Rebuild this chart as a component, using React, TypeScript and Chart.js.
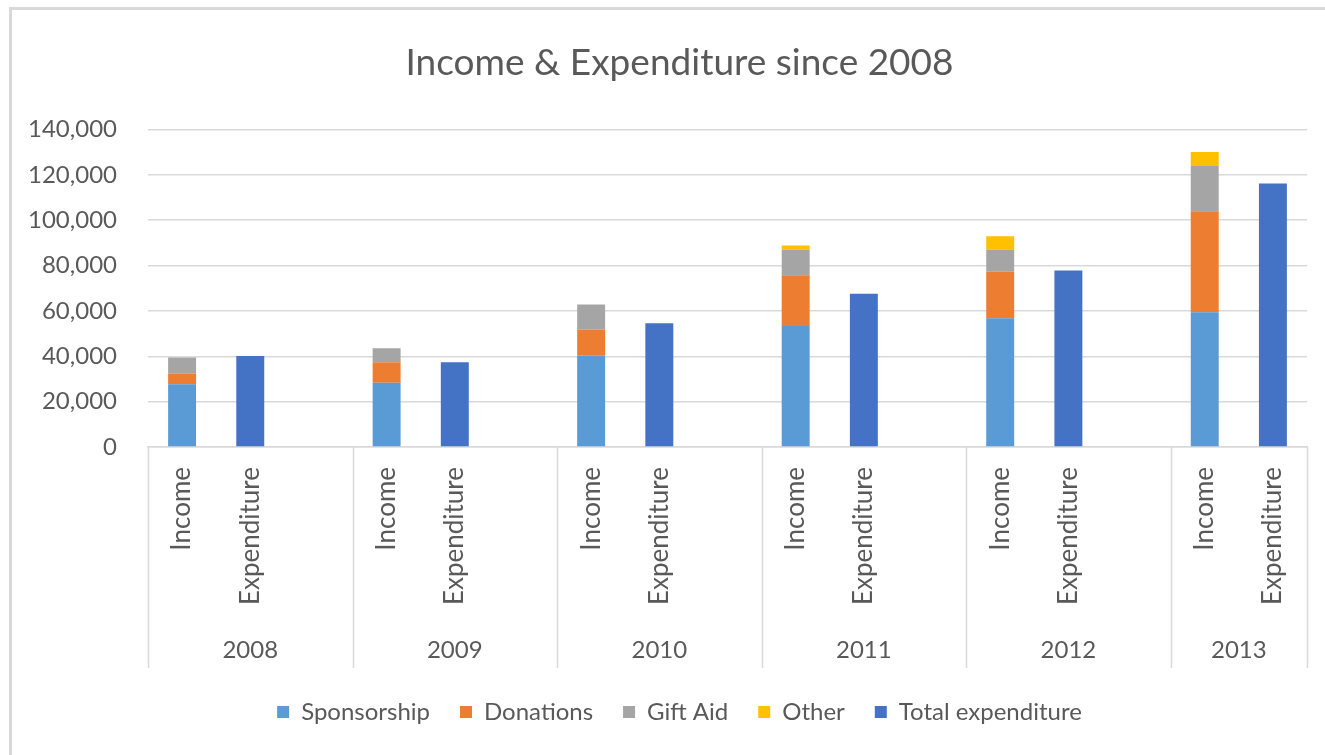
import React, { useEffect, useRef } from "react";
import { Chart, registerables } from "chart.js";

Chart.register(...registerables);

const years = ["2008", "2009", "2010", "2011", "2012", "2013"];
const subCategories = ["Income", "Expenditure"];
const sponsorship = [27700, 28300, 40200, 53300, 56700, 59400];
const donations = [4700, 9100, 11600, 22400, 20500, 44500];
const giftAid = [7100, 6100, 11000, 11200, 9700, 20000];
const other = [0, 0, 0, 1900, 6000, 6100];
const totalExpenditure = [40100, 37400, 54500, 67500, 77800, 116200];
const yTicks = [0, 20000, 40000, 60000, 80000, 100000, 120000, 140000];

const FONT = "Lato, 'Open Sans', sans-serif";
const TEXT = "#595959";
const GRID = "#d9d9d9";

// Build slot layout: each year has Income, Expenditure, and a blank gap slot (except the last year)
type Slot = { label: string; year: number; kind: "inc" | "exp" | "gap" };
const slots: Slot[] = [];
years.forEach((_, yi) => {
  slots.push({ label: subCategories[0], year: yi, kind: "inc" });
  slots.push({ label: subCategories[1], year: yi, kind: "exp" });
  if (yi < years.length - 1) slots.push({ label: "", year: yi, kind: "gap" });
});

const incomeSeries = (arr: number[]) =>
  slots.map((s) => (s.kind === "inc" ? arr[s.year] : null));
const expSeries = (arr: number[]) =>
  slots.map((s) => (s.kind === "exp" ? arr[s.year] : null));

const groupPlugin = {
  id: "groupPlugin",
  afterLayout(chart: any) {
    // let the y tick labels extend into the left padding without being clipped
    if (chart.scales.y) chart.scales.y.left = 0;
  },
  afterDraw(chart: any) {
    const ctx = chart.ctx;
    const xs = chart.scales.x;
    const area = chart.chartArea;
    const n = slots.length;
    const slotW = (xs.getPixelForValue(n - 1) - xs.getPixelForValue(0)) / (n - 1);
    const top = area.bottom;
    const bottom = area.bottom + 221;
    ctx.save();
    ctx.strokeStyle = GRID;
    ctx.lineWidth = 1.5;
    const bounds: number[] = [];
    years.forEach((_, yi) => {
      const idx = slots.map((s, i) => (s.year === yi ? i : -1)).filter((i) => i >= 0);
      const left = xs.getPixelForValue(idx[0]) - slotW / 2;
      const right = xs.getPixelForValue(idx[idx.length - 1]) + slotW / 2;
      bounds.push(left);
      if (yi === years.length - 1) bounds.push(right);
      ctx.fillStyle = TEXT;
      ctx.font = `24px ${FONT}`;
      ctx.textAlign = "center";
      ctx.textBaseline = "middle";
      ctx.fillText(years[yi], (left + right) / 2, area.bottom + 203);
    });
    bounds.forEach((bx) => {
      ctx.beginPath();
      ctx.moveTo(Math.round(bx) + 0.5, top);
      ctx.lineTo(Math.round(bx) + 0.5, bottom);
      ctx.stroke();
    });
    ctx.restore();
  },
};

export default function App() {
  const ref = useRef<HTMLCanvasElement>(null);
  useEffect(() => {
    if (!ref.current) return;
    const barPct = 0.41;
    const common = { categoryPercentage: 1, barPercentage: barPct, borderWidth: 0 };
    const leftPad = 52;
    const chart = new Chart(ref.current, {
      type: "bar",
      data: {
        labels: slots.map((s) => s.label),
        datasets: [
          { label: "Sponsorship", data: incomeSeries(sponsorship), backgroundColor: "#5B9BD5", ...common },
          { label: "Donations", data: incomeSeries(donations), backgroundColor: "#ED7D31", ...common },
          { label: "Gift Aid", data: incomeSeries(giftAid), backgroundColor: "#A5A5A5", ...common },
          { label: "Other", data: incomeSeries(other), backgroundColor: "#FFC000", ...common },
          { label: "Total expenditure", data: expSeries(totalExpenditure), backgroundColor: "#4472C4", ...common },
        ],
      },
      options: {
        animation: false,
        responsive: false,
        maintainAspectRatio: false,
        layout: { padding: { left: leftPad, right: 18, top: 0, bottom: 21 } },
        plugins: {
          title: {
            display: true,
            text: "Income & Expenditure since 2008",
            color: TEXT,
            font: { family: FONT, size: 37, weight: "normal" },
            padding: { top: 41, bottom: 44 },
          },
          legend: {
            position: "bottom",
            labels: {
              color: TEXT,
              font: { family: FONT, size: 24 },
              boxWidth: 12,
              boxHeight: 12,
              padding: 30,
            },
          },
          tooltip: { enabled: false },
        },
        scales: {
          x: {
            stacked: true,
            grid: { display: false, drawOnChartArea: false, drawTicks: false },
            border: { display: true, color: GRID, width: 1.5 },
            ticks: {
              autoSkip: false,
              maxRotation: 90,
              minRotation: 90,
              padding: 20,
              color: TEXT,
              font: { family: FONT, size: 26 },
            },
            afterFit: (scale: any) => {
              scale.height = 223;
            },
          },
          y: {
            stacked: true,
            min: 0,
            max: 140000,
            grid: { color: GRID, lineWidth: 1.5, drawTicks: false },
            border: { display: false },
            afterBuildTicks: (scale: any) => {
              scale.ticks = yTicks.map((v) => ({ value: v }));
            },
            ticks: {
              padding: 31,
              color: TEXT,
              font: { family: FONT, size: 24 },
              callback: (v: any) => Number(v).toLocaleString("en-US"),
            },
            afterFit: (scale: any) => {
              scale.width = 148 - leftPad;
            },
          },
        },
      } as any,
      plugins: [groupPlugin],
    });
    return () => chart.destroy();
  }, []);

  return (
    <div style={{ position: "absolute", left: 0, top: 0, width: 1325, height: 755, overflow: "hidden", background: "#fff" }}>
      <canvas ref={ref} width={1325} height={755} style={{ position: "absolute", left: 0, top: 0 }} />
      <div
        style={{
          position: "absolute",
          left: 9,
          top: 7,
          width: 1400,
          height: 900,
          borderLeft: "3px solid #d9d9d9",
          borderTop: "3px solid #d9d9d9",
          pointerEvents: "none",
        }}
      />
    </div>
  );
}
